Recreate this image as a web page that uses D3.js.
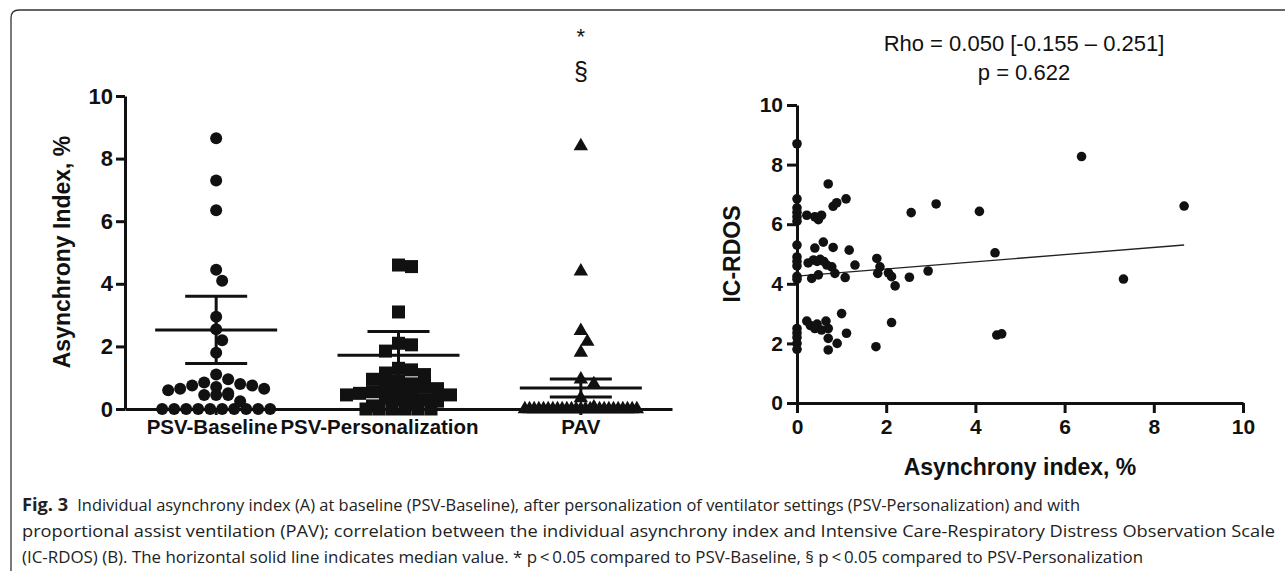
<!DOCTYPE html>
<html>
<head>
<meta charset="utf-8">
<script src="https://cdn.jsdelivr.net/npm/d3@7/dist/d3.min.js"></script>
<style>
  body { margin: 0; background: #fff; }
  svg { display: block; }
  .ax text { font-family: "Liberation Sans", Arial, sans-serif; font-weight: bold; fill: #111; }
</style>
</head>
<body>
<svg id="fig" width="1285" height="571"></svg>
<script>
// ---- panel A: asynchrony index per mode ----
const groups = ["PSV-Baseline", "PSV-Personalization", "PAV"];
const psvBaseline = [8.65, 7.3, 6.35, 4.45, 4.1, 2.95, 2.55, 2.2, 1.8, 1.1, 0.95, 0.85, 0.8, 0.75, 0.75,
  0.7, 0.65, 0.65, 0.6, 0.5, 0.45, 0.45, 0.45, 0.25, 0, 0, 0, 0, 0, 0, 0, 0, 0, 0];
const psvPersonalization = [4.6, 4.55, 3.1, 2.1, 2.05, 1.85, 1.3, 1.25, 1.15, 1.1, 0.95, 0.9, 0.8, 0.75,
  0.7, 0.65, 0.55, 0.5, 0.5, 0.45, 0.45, 0.4, 0.35, 0.3, 0.3, 0.25, 0.2, 0.1, 0, 0, 0, 0, 0, 0];
const pav = [8.4, 4.4, 2.5, 2.15, 1.8, 0.95, 0.8, 0.35, 0.05,
  0, 0, 0, 0, 0, 0, 0, 0, 0, 0, 0, 0, 0, 0, 0, 0, 0, 0, 0, 0, 0, 0, 0, 0, 0];
const groupCentre = [2.52, 1.72, 0.67];
const groupLower = [1.45, 0.95, 0.38];
const groupUpper = [3.6, 2.48, 0.96];
const yTicksA = [0, 2, 4, 6, 8, 10];
const pavMarks = ["*", "§"];

// ---- panel B: correlation with IC-RDOS ----
const asyncIndex = [0, 0, 0, 0, 0, 0, 0, 0, 0, 0, 0, 0, 0, 0, 0, 0, 0,
  0.22, 0.4, 0.48, 0.55, 0.7, 0.81, 0.89, 1.1, 0.59, 0.4, 0.81, 1.17,
  0.25, 0.37, 0.45, 0.52, 0.6, 0.33, 0.48, 0.67, 0.78, 0.85, 1.08, 1.3,
  1.79, 1.86, 1.81, 2.05, 2.12, 2.2, 2.52, 2.56, 2.94, 3.12, 4.09, 4.44, 4.48, 4.59,
  6.38, 8.68, 7.32,
  0.22, 0.3, 0.4, 0.45, 0.55, 0.65, 0.7, 0.7, 0.7, 0.9, 1.0, 1.11, 1.77, 2.12];
const icRdos = [8.7, 6.85, 6.55, 6.4, 6.25, 6.1, 5.3, 4.9, 4.75, 4.6, 4.25, 4.15, 2.5, 2.35, 2.2, 2.0, 1.8,
  6.3, 6.25, 6.15, 6.3, 7.35, 6.6, 6.72, 6.85, 5.4, 5.2, 5.22, 5.13,
  4.7, 4.8, 4.75, 4.82, 4.75, 4.18, 4.3, 4.63, 4.57, 4.35, 4.21, 4.63,
  4.85, 4.57, 4.35, 4.37, 4.24, 3.93, 4.22, 6.39, 4.43, 6.68, 6.43, 5.04, 2.28, 2.32,
  8.27, 6.61, 4.16,
  2.75, 2.6, 2.5, 2.65, 2.45, 2.75, 2.5, 2.17, 1.78, 2.0, 3.0, 2.34, 1.89, 2.7];
const regIntercept = 4.26;
const regSlope = 0.12;
const xTicksB = [0, 2, 4, 6, 8, 10];
const yTicksB = [0, 2, 4, 6, 8, 10];
const statLines = ["Rho = 0.050 [-0.155 \u2013 0.251]", "p = 0.622"];

const captionHead = "Fig. 3";
const captionLines = [
  "Individual asynchrony index (A) at baseline (PSV-Baseline), after personalization of ventilator settings (PSV-Personalization) and with",
  "proportional assist ventilation (PAV); correlation between the individual asynchrony index and Intensive Care-Respiratory Distress Observation Scale",
  "(IC-RDOS) (B). The horizontal solid line indicates median value. * p\u2009<\u20090.05 compared to PSV-Baseline, \u00a7 p\u2009<\u20090.05 compared to PSV-Personalization"
];

const svg = d3.select("#fig");
const font = '"Liberation Sans", Arial, sans-serif';

// figure frame, only the top and left edges show
svg.append("path")
  .attr("d", "M11,571 L11,18 Q11,10 19,10 L1285,10")
  .attr("fill", "none").attr("stroke", "#333").attr("stroke-width", 1.3);

// ================= panel A =================
const xA = d3.scaleBand().domain(groups).range([125, 672]);
const yA = d3.scaleLinear().domain([0, 10]).range([409, 96]);

const gA = svg.append("g");

// y axis
const axA = gA.append("g").attr("class", "ax")
  .attr("transform", "translate(125,0)")
  .call(d3.axisLeft(yA).tickValues(yTicksA).tickSize(9).tickSizeOuter(0).tickPadding(3));
axA.selectAll("text").style("font-size", "22px");

// x axis with category labels
const axAx = gA.append("g").attr("class", "ax")
  .attr("transform", "translate(0,409)")
  .call(d3.axisBottom(xA).tickSize(6).tickSizeOuter(0).tickPadding(4));
axAx.selectAll("text").style("font-size", "20.5px")
  .attr("dx", d => d === "PSV-Personalization" ? -19 : d === "PSV-Baseline" ? -4 : 0);
gA.selectAll(".ax path, .ax line").attr("stroke", "#111").attr("stroke-width", 3);

gA.append("text")
  .attr("transform", "translate(70,252) rotate(-90)")
  .attr("text-anchor", "middle")
  .style("font-family", font).style("font-weight", "bold").style("font-size", "23px")
  .attr("fill", "#111")
  .text("Asynchrony Index, %");

// spread points sideways so they don't sit on top of each other
function swarm(values, y, diam, maxHalf) {
  const idx = d3.range(values.length);
  const zeros = idx.filter(i => values[i] === 0);
  const rest = idx.filter(i => values[i] !== 0).sort((a, b) => values[b] - values[a]);
  const off = new Array(values.length).fill(0);
  const placed = [];
  const step = diam / 2;
  const kMax = 2 * Math.floor(maxHalf / step);
  rest.forEach(i => {
    const py = y(values[i]);
    let best = 0, bestHit = Infinity;
    for (let k = 0; k <= kMax; k++) {
      const o = (k % 2 ? 1 : -1) * Math.ceil(k / 2) * step;
      const hit = placed.filter(p => Math.hypot(p.x - o, p.y - py) < diam * 0.95).length;
      if (hit < bestHit) { bestHit = hit; best = o; }
      if (hit === 0) break;
    }
    off[i] = best;
    placed.push({ x: best, y: py });
  });
  // the zero row is squeezed to fit the column
  const gap = zeros.length > 1 ? Math.min(diam, 2 * maxHalf / (zeros.length - 1)) : 0;
  zeros.forEach((i, j) => { off[i] = (j - (zeros.length - 1) / 2) * gap; });
  return off;
}

const series = [psvBaseline, psvPersonalization, pav];
const shapes = [
  d3.symbol().type(d3.symbolCircle).size(Math.PI * 36),
  d3.symbol().type(d3.symbolSquare).size(169),
  d3.symbol().type(d3.symbolTriangle).size(90)
];
const diams = [12, 13, 13];

series.forEach((vals, gi) => {
  const cx = xA(groups[gi]) + xA.bandwidth() / 2;
  const off = swarm(vals, yA, diams[gi], 56);
  gA.append("g").selectAll("path")
    .data(vals)
    .enter()
    .append("path")
    .attr("d", shapes[gi])
    .attr("transform", (d, i) => "translate(" + (cx + off[i]) + "," + yA(d) + ")")
    .attr("fill", "#111");

  // centre line and whiskers
  const eb = gA.append("g").attr("stroke", "#111").attr("stroke-width", 3);
  eb.append("line").attr("x1", cx - 61).attr("x2", cx + 61)
    .attr("y1", yA(groupCentre[gi])).attr("y2", yA(groupCentre[gi]));
  eb.append("line").attr("x1", cx).attr("x2", cx)
    .attr("y1", yA(groupLower[gi])).attr("y2", yA(groupUpper[gi]));
  [groupLower[gi], groupUpper[gi]].forEach(v => {
    eb.append("line").attr("x1", cx - 31).attr("x2", cx + 31)
      .attr("y1", yA(v)).attr("y2", yA(v));
  });
});

// significance marks over PAV
const pavX = xA("PAV") + xA.bandwidth() / 2;
gA.selectAll(".sig")
  .data(pavMarks)
  .enter()
  .append("text")
  .attr("x", pavX)
  .attr("y", (d, i) => i === 0 ? 44 : 80)
  .attr("text-anchor", "middle")
  .style("font-family", font)
  .style("font-size", (d, i) => i === 0 ? "22px" : "25px")
  .attr("fill", "#111")
  .text(d => d);

// ================= panel B =================
const xB = d3.scaleLinear().domain([0, 10]).range([797, 1243]);
const yB = d3.scaleLinear().domain([0, 10]).range([403, 105]);
const gB = svg.append("g");

const axBy = gB.append("g").attr("class", "ax")
  .attr("transform", "translate(797,0)")
  .call(d3.axisLeft(yB).tickValues(yTicksB).tickSize(10).tickSizeOuter(0).tickPadding(4));
axBy.selectAll("text").style("font-size", "21px");
const axBx = gB.append("g").attr("class", "ax")
  .attr("transform", "translate(0,403)")
  .call(d3.axisBottom(xB).tickValues(xTicksB).tickSize(10).tickSizeOuter(0).tickPadding(6));
axBx.selectAll("text").style("font-size", "21px");
gB.selectAll(".ax path, .ax line").attr("stroke", "#111").attr("stroke-width", 3);

gB.append("text")
  .attr("transform", "translate(740,254) rotate(-90)")
  .attr("text-anchor", "middle")
  .style("font-family", font).style("font-weight", "bold").style("font-size", "23px")
  .attr("fill", "#111")
  .text("IC-RDOS");

gB.append("text")
  .attr("x", 1020).attr("y", 475)
  .attr("text-anchor", "middle")
  .style("font-family", font).style("font-weight", "bold").style("font-size", "23px")
  .attr("fill", "#111")
  .text("Asynchrony index, %");

gB.selectAll(".stat")
  .data(statLines)
  .enter()
  .append("text")
  .attr("x", 1024)
  .attr("y", (d, i) => 51 + i * 29)
  .attr("text-anchor", "middle")
  .style("font-family", font).style("font-size", "22px")
  .attr("fill", "#111")
  .text(d => d);

// fitted line over the observed x range
const xExt = d3.extent(asyncIndex);
gB.append("line")
  .attr("x1", xB(xExt[0])).attr("y1", yB(regIntercept + regSlope * xExt[0]))
  .attr("x2", xB(xExt[1])).attr("y2", yB(regIntercept + regSlope * xExt[1]))
  .attr("stroke", "#222").attr("stroke-width", 1.3);

gB.append("g").selectAll("circle")
  .data(asyncIndex)
  .enter()
  .append("circle")
  .attr("cx", d => xB(d))
  .attr("cy", (d, i) => yB(icRdos[i]))
  .attr("r", 4.8)
  .attr("fill", "#111");

// ================= caption =================
// condensed look: each line squeezed to where it ends in the figure
const capFont = '"Open Sans", "Noto Sans", sans-serif';
const capEnd = [1080, 1275, 1143];
const cap = svg.append("g").attr("fill", "#222");
const head = cap.append("text")
  .attr("x", 22).attr("y", 511)
  .style("font-family", capFont).style("font-size", "17px").style("font-weight", "bold")
  .text(captionHead);
const lines = cap.selectAll(".capline")
  .data(captionLines)
  .enter()
  .append("text")
  .attr("y", (d, i) => 511 + i * 26)
  .style("font-family", capFont).style("font-size", "17px")
  .text(d => d);
const squeeze = (capEnd[1] - 22) / lines.nodes()[1].getComputedTextLength();
const headW = head.node().getComputedTextLength() * squeeze;
head.attr("textLength", headW).attr("lengthAdjust", "spacingAndGlyphs");
const capStart = [22 + headW + 9, 22, 22];
lines
  .attr("x", (d, i) => capStart[i])
  .attr("textLength", (d, i) => capEnd[i] - capStart[i])
  .attr("lengthAdjust", "spacingAndGlyphs");
</script>
</body>
</html>
